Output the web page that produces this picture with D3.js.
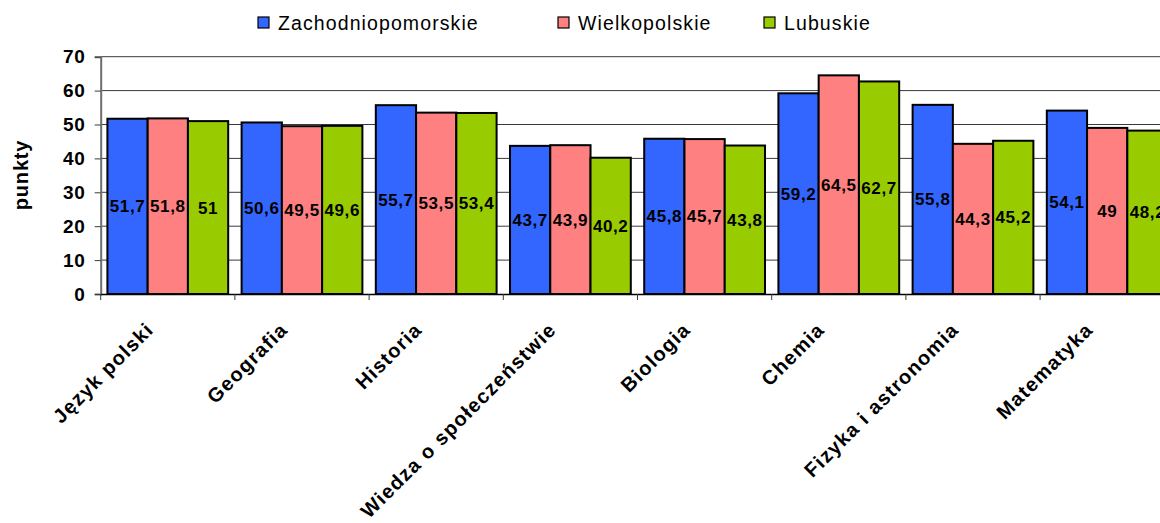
<!DOCTYPE html>
<html>
<head>
<meta charset="utf-8">
<script src="https://cdn.jsdelivr.net/npm/d3@7"></script>
<style>
  html, body { margin: 0; padding: 0; background: #fff; }
  svg { display: block; font-family: "Liberation Sans", Arial, sans-serif; }
</style>
</head>
<body>
<svg id="chart" width="1160" height="523"></svg>
<script>
const categories = ["Język polski", "Geografia", "Historia", "Wiedza o społeczeństwie", "Biologia", "Chemia", "Fizyka i astronomia", "Matematyka"];
const seriesNames = ["Zachodniopomorskie", "Wielkopolskie", "Lubuskie"];
const zachodniopomorskie = [51.7, 50.6, 55.7, 43.7, 45.8, 59.2, 55.8, 54.1];
const wielkopolskie = [51.8, 49.5, 53.5, 43.9, 45.7, 64.5, 44.3, 49];
const lubuskie = [51, 49.6, 53.4, 40.2, 43.8, 62.7, 45.2, 48.2];
const yTicks = [0, 10, 20, 30, 40, 50, 60, 70];
const yTitle = "punkty";

(function () {
const seriesValues = [zachodniopomorskie, wielkopolskie, lubuskie];
const colors = ["#3366FF", "#FF8080", "#99CC00"];

const svg = d3.select("#chart");
const mLeft = 100.7, mTop = 56.7, mBottom = 294;
const bandW = 134.2;
const mRight = mLeft + bandW * categories.length;

const x0 = d3.scaleBand().domain(categories).range([mLeft, mRight]).padding(0);
const x1 = d3.scaleBand().domain(seriesNames)
  .range([x0.bandwidth() * 0.05, x0.bandwidth() * 0.95]).padding(0);
const y = d3.scaleLinear().domain([0, 70]).range([mBottom, mTop]);

// gridlines
svg.append("g")
  .selectAll("line").data(yTicks.filter(d => d > 0)).join("line")
  .attr("x1", mLeft).attr("x2", mRight)
  .attr("y1", d => y(d)).attr("y2", d => y(d))
  .attr("stroke", "#3a3a3a").attr("stroke-width", 1);

// bars
const fmt = v => String(v).replace(".", ",");
const groups = svg.append("g").selectAll("g").data(categories).join("g")
  .attr("transform", d => `translate(${x0(d)},0)`);

groups.selectAll("rect.bar")
  .data((c, i) => seriesNames.map((s, j) => ({ s, j, v: seriesValues[j][i] })))
  .join("rect").attr("class", "bar")
  .attr("x", d => x1(d.s))
  .attr("y", d => y(d.v))
  .attr("width", x1.bandwidth())
  .attr("height", d => y(0) - y(d.v))
  .attr("fill", d => colors[d.j])
  .attr("stroke", "#000").attr("stroke-width", 2);

groups.selectAll("text.val")
  .data((c, i) => seriesNames.map((s, j) => ({ s, j, v: seriesValues[j][i] })))
  .join("text").attr("class", "val")
  .attr("x", d => x1(d.s) + x1.bandwidth() / 2)
  .attr("y", d => (y(d.v) + y(0)) / 2)
  .attr("dy", "0.35em")
  .attr("text-anchor", "middle")
  .attr("font-size", 17).attr("font-weight", "bold")
  .attr("letter-spacing", 0.6)
  .attr("fill", "#000")
  .text(d => fmt(d.v));

// y axis
const yAxis = d3.axisLeft(y).tickValues(yTicks).tickSize(6).tickPadding(9);
const gy = svg.append("g").attr("transform", `translate(${mLeft},0)`).call(yAxis);
gy.select(".domain").attr("stroke", "#6e6e6e").attr("stroke-width", 2);
gy.selectAll(".tick line").attr("stroke", "#3a3a3a");
gy.selectAll(".tick text")
  .attr("font-size", 19).attr("font-weight", "bold")
  .attr("font-family", "Liberation Sans, Arial, sans-serif")
  .attr("letter-spacing", 0.8)
  .attr("fill", "#000");

// x axis
const xAxis = d3.axisBottom(x0).tickSize(0).tickFormat("");
const gx = svg.append("g").attr("transform", `translate(0,${mBottom})`).call(xAxis);
gx.select(".domain").attr("stroke", "#000").attr("stroke-width", 1.5);
gx.selectAll(".tick").remove();
gx.selectAll("line.sep").data(d3.range(categories.length + 1)).join("line")
  .attr("class", "sep")
  .attr("x1", i => mLeft + i * x0.step()).attr("x2", i => mLeft + i * x0.step())
  .attr("y1", 0).attr("y2", 6)
  .attr("stroke", "#3a3a3a").attr("stroke-width", 1);

// category labels
svg.append("g").selectAll("text").data(categories).join("text")
  .attr("transform", d => `translate(${x0(d) + x0.bandwidth() / 2 - 13},${mBottom + 37}) rotate(-45)`)
  .attr("text-anchor", "end")
  .attr("font-size", 20).attr("font-weight", "bold")
  .attr("letter-spacing", 1.2)
  .attr("fill", "#000")
  .text(d => d);

// y title
svg.append("text")
  .attr("transform", `translate(28,175) rotate(-90)`)
  .attr("text-anchor", "middle")
  .attr("font-size", 20).attr("font-weight", "bold")
  .attr("letter-spacing", 0.8)
  .text(yTitle);

// legend
const legendX = [258, 558, 764];
const lg = svg.append("g").selectAll("g").data(seriesNames).join("g")
  .attr("transform", (d, i) => `translate(${legendX[i]},23)`);
lg.append("rect").attr("x", 0).attr("y", -6).attr("width", 11).attr("height", 11)
  .attr("fill", (d, i) => colors[i]).attr("stroke", "#000").attr("stroke-width", 1.2);
lg.append("text").attr("x", 20).attr("y", 0).attr("dy", "0.35em")
  .attr("font-size", 19.5).attr("letter-spacing", 1.1)
  .text(d => d);
})();
</script>
</body>
</html>
